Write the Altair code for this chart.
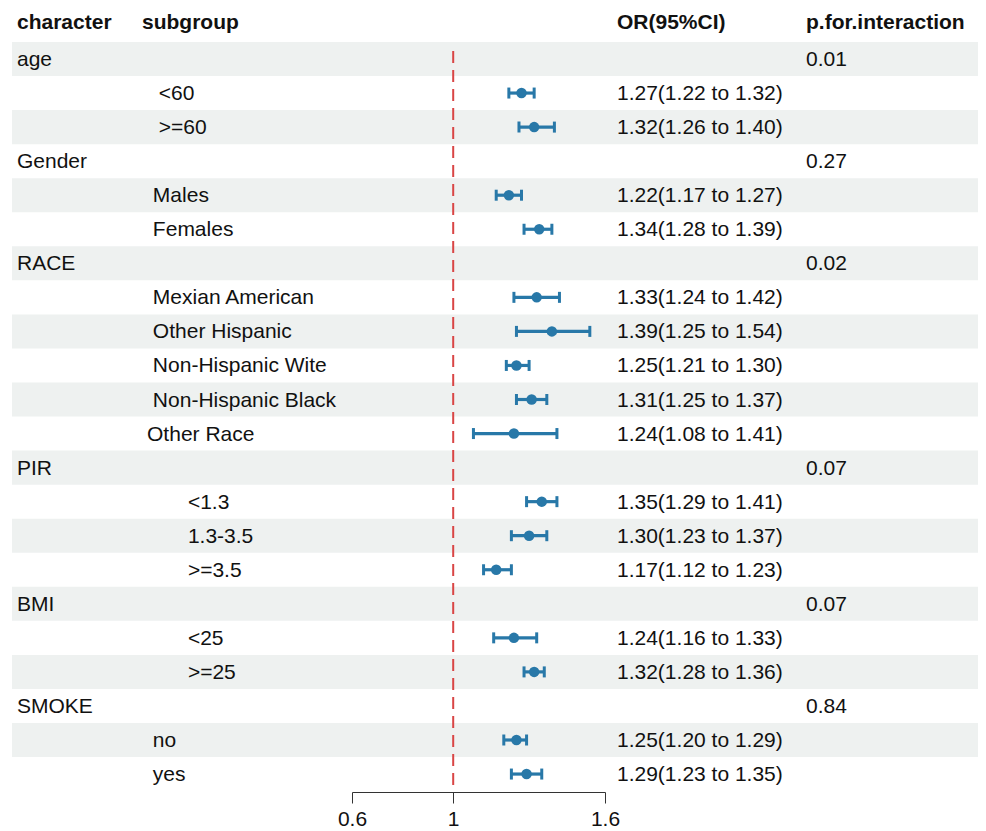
import altair as alt
import pandas as pd

Z = "\u200b"
NB = "\u00a0"

def ind(n, s):
    return Z + NB * n + s

character = ["age", "", "", "Gender", "", "", "RACE", "", "", "", "", "",
             "PIR", "", "", "", "BMI", "", "", "SMOKE", "", ""]
subgroup = ["", ind(3, "<60"), ind(3, ">=60"), "", ind(2, "Males"), ind(2, "Females"), "",
            ind(2, "Mexian American"), ind(2, "Other Hispanic"), ind(2, "Non-Hispanic Wite"),
            ind(2, "Non-Hispanic Black"), ind(1, "Other Race"), "",
            ind(8, "<1.3"), ind(8, "1.3-3.5"), ind(8, ">=3.5"), "",
            ind(8, "<25"), ind(8, ">=25"), "", ind(2, "no"), ind(2, "yes")]
or_val = [None, 1.27, 1.32, None, 1.22, 1.34, None, 1.33, 1.39, 1.25, 1.31, 1.24,
          None, 1.35, 1.30, 1.17, None, 1.24, 1.32, None, 1.25, 1.29]
lo_val = [None, 1.22, 1.26, None, 1.17, 1.28, None, 1.24, 1.25, 1.21, 1.25, 1.08,
          None, 1.29, 1.23, 1.12, None, 1.16, 1.28, None, 1.20, 1.23]
hi_val = [None, 1.32, 1.40, None, 1.27, 1.39, None, 1.42, 1.54, 1.30, 1.37, 1.41,
          None, 1.41, 1.37, 1.23, None, 1.33, 1.36, None, 1.29, 1.35]
p_val = ["0.01", "", "", "0.27", "", "", "0.02", "", "", "", "", "",
         "0.07", "", "", "", "0.07", "", "", "0.84", "", ""]
headers = ["character", "subgroup", "OR(95%CI)", "p.for.interaction"]
x_ticks = [0.6, 1, 1.6]

or_text = ["" if o is None else f"{o:.2f}({l:.2f} to {h:.2f})"
           for o, l, h in zip(or_val, lo_val, hi_val)]

df = pd.DataFrame({
    "idx": list(range(len(character))),
    "character": character,
    "subgroup": subgroup,
    "or": or_val,
    "lo": lo_val,
    "hi": hi_val,
    "or_text": or_text,
    "p": p_val,
})
df["y0"] = df["idx"] - 0.5
df["y1"] = df["idx"] + 0.5
df["band"] = df["idx"] % 2 == 0
est = df.dropna(subset=["or"])

FONT = "Liberation Sans"
BLUE = "#2878A8"

xscale = alt.Scale(domain=[0.6, 1.6], range=[344, 597], nice=False, zero=False)
yscale = alt.Scale(domain=[0, 21], range=[51, 766.05], nice=False, zero=False)
xaxis = alt.Axis(values=x_ticks, title=None, grid=False, domainColor="#333333",
                 tickColor="#333333", tickSize=11, labelFontSize=21,
                 labelColor="#111111", labelPadding=5, labelFont=FONT,
                 labelFlush=False, labelOverlap=False,
                 labelExpr="datum.value == 1 ? '1' : format(datum.value, '.1f')")

bands = alt.Chart(df[df["band"]]).mark_rect(color="#EEF1F0").encode(
    y=alt.Y("y0:Q", scale=yscale, axis=None),
    y2="y1:Q",
    x=alt.value(4), x2=alt.value(970),
)

ref = alt.Chart(pd.DataFrame({"v": [1]})).mark_rule(
    color="#D94545", strokeWidth=2, strokeDash=[12, 7]
).encode(
    x=alt.X("v:Q", scale=xscale, axis=xaxis),
    y=alt.value(43), y2=alt.value(778),
)

ci = alt.Chart(est).mark_rule(color=BLUE, strokeWidth=3.2).encode(
    x=alt.X("lo:Q", scale=xscale, axis=xaxis),
    x2="hi:Q",
    y=alt.Y("idx:Q", scale=yscale, axis=None),
)

caps = alt.Chart(est).transform_fold(["lo", "hi"], as_=["k", "v"]).mark_tick(
    color=BLUE, orient="vertical", size=11, thickness=3, opacity=1
).encode(
    x=alt.X("v:Q", scale=xscale, axis=xaxis),
    y=alt.Y("idx:Q", scale=yscale, axis=None),
)

pts = alt.Chart(est).mark_circle(color=BLUE, size=110, opacity=1).encode(
    x=alt.X("or:Q", scale=xscale, axis=xaxis),
    y=alt.Y("idx:Q", scale=yscale, axis=None),
)

def col_text(field, xpos):
    return alt.Chart(df).mark_text(
        align="left", baseline="middle", font=FONT, fontSize=21, color="#111111", dy=1
    ).encode(
        x=alt.value(xpos),
        y=alt.Y("idx:Q", scale=yscale, axis=None),
        text=f"{field}:N",
    )

texts = [col_text("character", 9), col_text("subgroup", 133.2),
         col_text("or_text", 609), col_text("p", 798)]

header_x = [9, 134, 609, 798]
head_layers = []
for name, hx in zip(headers, header_x):
    head_layers.append(
        alt.Chart(pd.DataFrame({"h": [name]})).mark_text(
            align="left", baseline="middle", font=FONT, fontSize=21,
            fontWeight="bold", color="#111111"
        ).encode(x=alt.value(hx), y=alt.value(15), text="h:N")
    )

chart = alt.layer(bands, ref, ci, caps, pts, *texts, *head_layers).properties(
    width=970, height=784,
    padding={"left": 0, "top": 0, "right": 0, "bottom": 38},
    autosize=alt.AutoSizeParams(type="none"),
).configure_view(stroke=None)

chart.save("out.html", embed_options={"renderer": "svg", "actions": False})
